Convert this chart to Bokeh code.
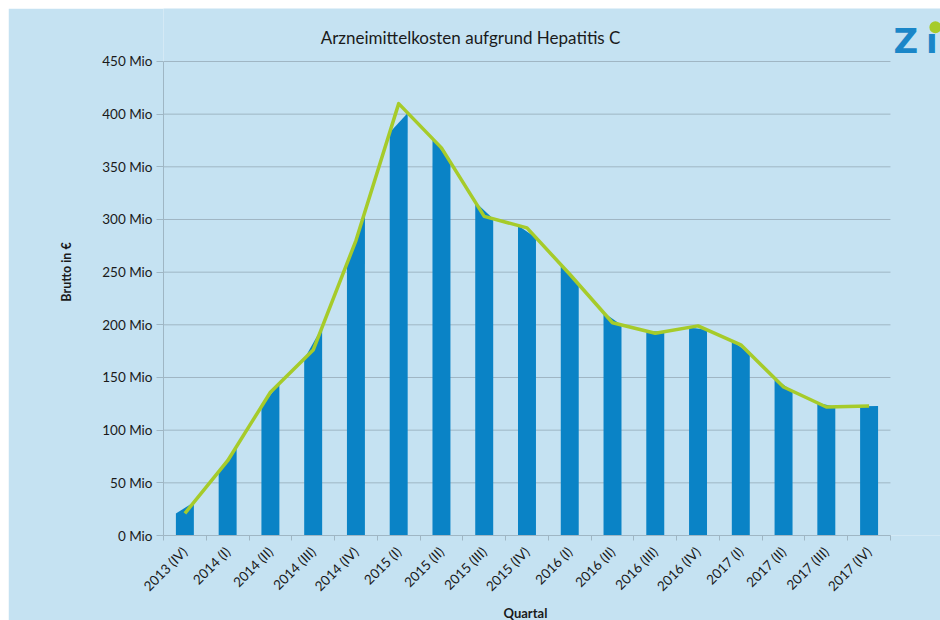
import numpy as np
from bokeh.plotting import figure
from bokeh.models import FixedTicker, PrintfTickFormatter, Label, Range1d, Title
from bokeh.embed import file_html
from bokeh.resources import INLINE

quarters = ["2013 (IV)", "2014 (I)", "2014 (II)", "2014 (III)", "2014 (IV)",
            "2015 (I)", "2015 (II)", "2015 (III)", "2015 (IV)",
            "2016 (I)", "2016 (II)", "2016 (III)", "2016 (IV)",
            "2017 (I)", "2017 (II)", "2017 (III)", "2017 (IV)"]
brutto_mio = [21, 71, 136, 176, 280, 410, 368, 303, 292,
              248, 202, 192, 199, 181, 141, 122, 123]
y_ticks = [0, 50, 100, 150, 200, 250, 300, 350, 400, 450]

FONT = "Lato"
GRID = "#9fb6c4"
n = len(quarters)
xs = np.arange(n, dtype=float)
vals = np.array(brutto_mio, dtype=float)

# the frame extends to the top and right edges so that the title and logo
# can be drawn inside it; axes and gridlines are bounded to the data area
p = figure(width=932, height=612, output_backend="svg", toolbar_location=None,
           title=None,
           x_range=Range1d(-0.5, 17.67), y_range=Range1d(0, 500.3),
           min_border_left=155, min_border_right=0, min_border_top=0,
           min_border_bottom=85)
p.margin = (8, 0, 0, 8)
p.background_fill_color = "#c5e2f2"
p.border_fill_color = "#c5e2f2"
p.outline_line_color = None

# horizontal gridlines limited to the category span
p.segment(x0=-0.5, x1=n - 0.5, y0=y_ticks, y1=y_ticks, line_color=GRID, line_width=1)

# bars whose tops follow the line (area seen through stripes)
hw = 0.21
bx, by = [], []
for i in range(n):
    xl, xr = xs[i] - hw, xs[i] + hw
    tl, tr = np.interp(xl, xs, vals), np.interp(xr, xs, vals)
    bx.append([xl, xl, xr, xr])
    by.append([0, tl, tr, 0])
p.patches(bx, by, fill_color="#0a83c6", line_color=None)

p.line(xs, vals, line_color="#a6cb2a", line_width=3.5, line_join="round")

# x axis
p.xaxis.bounds = (-0.5, n - 0.5)
p.xaxis.ticker = FixedTicker(ticks=list(xs), minor_ticks=list(xs[:-1] + 0.5) + [-0.5, n - 0.5])
p.xaxis.major_label_overrides = {i: q for i, q in enumerate(quarters)}
p.xaxis.major_label_orientation = np.pi / 4
p.xaxis.major_tick_line_color = None
p.xaxis.major_tick_out = 5
p.xaxis.major_label_standoff = 9
p.xaxis.minor_tick_out = 5
p.xaxis.minor_tick_in = 0
p.xaxis.minor_tick_line_color = GRID
p.xaxis.axis_line_color = GRID
p.xaxis.major_label_text_font = FONT
p.xaxis.major_label_text_font_size = "13.5px"
p.xaxis.major_label_text_color = "#1a1a1a"

# x axis title, centred under the categories
p.add_layout(Title(text="Quartal", text_font=FONT, text_font_style="bold",
                   text_font_size="13px", text_color="#1a1a1a",
                   align="left", offset=340, standoff=0), "below")

# y axis
p.yaxis.bounds = (y_ticks[0], y_ticks[-1])
p.yaxis.ticker = FixedTicker(ticks=y_ticks)
p.yaxis.formatter = PrintfTickFormatter(format="%d Mio")
p.yaxis.major_tick_out = 7
p.yaxis.major_tick_in = 0
p.yaxis.minor_tick_line_color = None
p.yaxis.major_tick_line_color = GRID
p.yaxis.axis_line_color = GRID
p.yaxis.major_label_text_font = FONT
p.yaxis.major_label_text_font_size = "13.5px"
p.yaxis.major_label_text_color = "#1a1a1a"
p.yaxis.major_label_standoff = 4
p.yaxis.axis_label = "Brutto in €"
p.yaxis.axis_label_text_font_style = "bold"
p.yaxis.axis_label_text_font = FONT
p.yaxis.axis_label_text_font_size = "12.5px"
p.yaxis.axis_label_text_color = "#1a1a1a"
p.yaxis.axis_label_standoff = 25

p.xgrid.grid_line_color = None
p.ygrid.grid_line_color = None

# title
p.add_layout(Label(x=6.68, y=472.5, text="Arzneimittelkosten aufgrund Hepatitis C",
                   text_font=FONT, text_font_size="17px", text_color="#1a1a1a",
                   text_align="center", text_baseline="middle"))

# logo (cropped at the right edge, as in the original)
p.add_layout(Label(x=16.57, y=469.5, text="Z", text_font="DejaVu Sans", text_font_style="bold",
                   text_font_size="34px", text_color="#1a86c8",
                   text_baseline="middle", text_align="left"))
p.add_layout(Label(x=17.33, y=469.5, text="ı", text_font="DejaVu Sans", text_font_style="bold",
                   text_font_size="34px", text_color="#1a86c8",
                   text_baseline="middle", text_align="left"))
p.scatter(x=[17.55], y=[482.5], size=12, marker="circle",
          fill_color="#a6cb2a", line_color=None)

open("out.html", "w").write(file_html(p, INLINE))
